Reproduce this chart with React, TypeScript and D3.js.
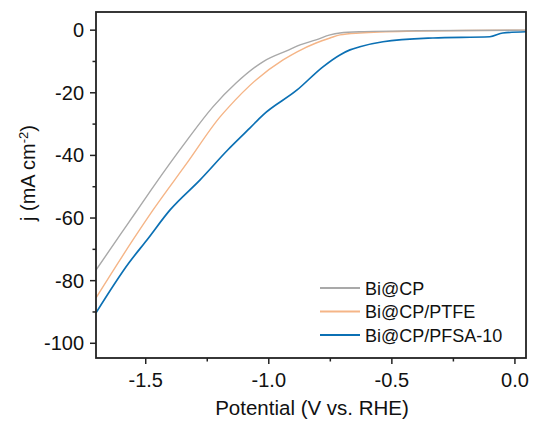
import React from "react";
import * as d3 from "d3";

const xTicks = [-1.5, -1.0, -0.5, 0.0];
const xMinor = [-1.25, -0.75, -0.25];
const yTicks = [0, -20, -40, -60, -80, -100];
const yMinor = [-10, -30, -50, -70, -90];

const seriesNames = ["Bi@CP", "Bi@CP/PTFE", "Bi@CP/PFSA-10"];
const seriesColors = ["#a9a9a9", "#f5b587", "#0b70b4"];

const potBiCP = [-1.702, -1.604, -1.539, -1.47, -1.332, -1.227, -1.133, -1.024, -0.918, -0.873, -0.808, -0.751, -0.711, -0.63, -0.4, -0.2, 0.045];
const curBiCP = [-76.6, -65.4, -58.0, -50.1, -35.1, -24.5, -16.9, -10.1, -6.3, -4.7, -3.1, -1.5, -0.9, -0.5, -0.2, -0.1, 0];

const potPTFE = [-1.702, -1.552, -1.47, -1.332, -1.198, -1.162, -1.052, -0.942, -0.885, -0.808, -0.751, -0.711, -0.63, -0.4, -0.2, 0.045];
const curPTFE = [-85.5, -67.0, -57.4, -42.4, -27.7, -24.5, -15.9, -9.5, -6.9, -4.1, -2.5, -1.5, -0.9, -0.3, -0.1, 0];

const potPFSA = [-1.702, -1.568, -1.495, -1.401, -1.279, -1.166, -1.076, -1.024, -0.885, -0.78, -0.711, -0.67, -0.63, -0.536, -0.333, -0.102, -0.049, 0.045];
const curPFSA = [-90.3, -74.3, -67.0, -57.4, -47.8, -38.2, -31.2, -27.1, -19.1, -11.7, -7.9, -6.3, -5.3, -3.7, -2.5, -2.1, -0.9, -0.5];

const W = 533, H = 423;
const L = 96, R = 526, T = 12, B = 358;

export default function App() {
  const x = d3.scaleLinear().domain([-1.702, 0.045]).range([L, R]);
  const y = d3.scaleLinear().domain([-104.7, 5.8]).range([B, T]);
  const line = d3
    .line<[number, number]>()
    .x((d) => x(d[0]))
    .y((d) => y(d[1]))
    .curve(d3.curveMonotoneX);
  const series = [
    { pot: potBiCP, cur: curBiCP },
    { pot: potPTFE, cur: curPTFE },
    { pot: potPFSA, cur: curPFSA },
  ];
  const font = "Arial, 'Liberation Sans', sans-serif";
  const legX = 320, legY0 = 288, legDY = 23.5;
  return (
    <svg width={W} height={H} style={{ position: "absolute", left: 0, top: 0 }} fontFamily={font}>
      <rect width={W} height={H} fill="#fff" />
      <defs>
        <clipPath id="plot">
          <rect x={L} y={T} width={R - L} height={B - T} />
        </clipPath>
      </defs>
      <g clipPath="url(#plot)">
        {[2, 1, 0].map((i) => (
          <path
            key={i}
            d={line(series[i].pot.map((p, k) => [p, series[i].cur[k]] as [number, number])) || ""}
            fill="none"
            stroke={seriesColors[i]}
            strokeWidth={i === 2 ? 1.7 : 1.4}
          />
        ))}
      </g>
      <rect x={L} y={T} width={R - L} height={B - T} fill="none" stroke="#222" strokeWidth={1.8} />
      {xTicks.map((t) => (
        <g key={t}>
          <line x1={x(t)} x2={x(t)} y1={B} y2={B + 6} stroke="#222" strokeWidth={1.5} />
          <text x={x(t)} y={B + 29} textAnchor="middle" fontSize={20} fill="#111">
            {t.toFixed(1)}
          </text>
        </g>
      ))}
      {xMinor.map((t) => (
        <line key={t} x1={x(t)} x2={x(t)} y1={B} y2={B + 3.5} stroke="#222" strokeWidth={1.5} />
      ))}
      {yTicks.map((t) => (
        <g key={t}>
          <line x1={L - 6} x2={L} y1={y(t)} y2={y(t)} stroke="#222" strokeWidth={1.5} />
          <text x={L - 12} y={y(t) + 7} textAnchor="end" fontSize={20} fill="#111">
            {t}
          </text>
        </g>
      ))}
      {yMinor.map((t) => (
        <line key={t} x1={L - 3.5} x2={L} y1={y(t)} y2={y(t)} stroke="#222" strokeWidth={1.5} />
      ))}
      <text x={312} y={415} textAnchor="middle" fontSize={20.5} fill="#111">
        Potential (V vs. RHE)
      </text>
      <text transform={`translate(35,173) rotate(-90)`} textAnchor="middle" fontSize={20} fill="#111">
        j (mA cm
        <tspan dy={-7} fontSize={13}>-2</tspan>
        <tspan dy={7}>)</tspan>
      </text>
      {seriesNames.map((n, i) => (
        <g key={n}>
          <line x1={legX} x2={legX + 40} y1={legY0 + i * legDY} y2={legY0 + i * legDY} stroke={seriesColors[i]} strokeWidth={1.8} />
          <text x={legX + 45} y={legY0 + i * legDY + 6.5} fontSize={18} fill="#111">
            {n}
          </text>
        </g>
      ))}
    </svg>
  );
}
